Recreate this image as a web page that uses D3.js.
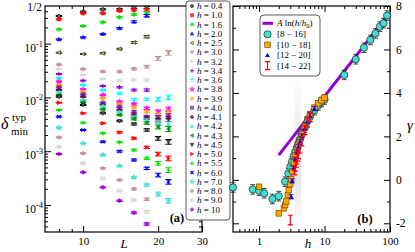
<!DOCTYPE html>
<html><head><meta charset="utf-8">
<script src="https://d3js.org/d3.v7.min.js"></script>
<style>
html,body{margin:0;padding:0;background:#fff;}
svg{display:block;}
text{font-family:"Liberation Serif","Times New Roman",serif;fill:#000;}
</style></head><body>
<svg id="chart" width="415" height="252"></svg>
<script>
// ================= DATA =================
// panel (a): system sizes L and typical minimal gap for each field h
const sizesL = [8, 10, 12, 14, 16, 18, 20, 22];
const hLabels = ["0.4","1.0","1.6","2.0","2.5","3.0","3.2","3.4","3.6","3.8","3.9","4.0","4.1","4.2","4.3","4.5","5.0","5.5","6.0","7.0","8.0","9.0","10"];
const dH0p4 = [0.326, 0.392, 0.434, 0.434, 0.469, 0.47, null, null];
const dH1p0 = [0.283, 0.366, 0.366, 0.409, 0.421, 0.421, null, null];
const dH1p6 = [0.184, 0.212, 0.249, 0.308, 0.348, 0.37, null, null];
const dH2p0 = [0.120, 0.131, 0.151, 0.193, 0.255, 0.33, null, null];
const dH2p5 = [0.0678, 0.0641, 0.0661, 0.0794, 0.105, 0.134, null, null];
const dH3p0 = [0.0406, 0.0333, 0.0301, 0.0301, 0.0338, 0.0372, 0.0533, 0.0678];
const dH3p2 = [0.0338, 0.0261, 0.0220, 0.0205, 0.0211, 0.0211, null, null];
const dH3p4 = [0.0272, 0.0205, 0.0163, 0.0154, 0.0137, 0.0137, null, null];
const dH3p6 = [0.0227, 0.0170, 0.0137, 0.0119, 0.00923, 0.00923, 0.00923, 0.01005];
const dH3p8 = [0.0196, 0.01415, 0.0111, 0.00832, 0.00754, 0.00628, 0.00542, 0.00601];
const dH3p9 = [0.0170, 0.01276, 0.00962, 0.00754, 0.00655, 0.00542, 0.00471, 0.0052];
const dH4p0 = [0.0154, 0.01143, 0.00797, 0.00672, 0.00542, 0.00438, 0.00427, 0.00451];
const dH4p1 = [0.01373, 0.0103, 0.00723, 0.00584, 0.00471, 0.00414, 0.0038, 0.00397];
const dH4p2 = [0.01245, 0.00895, 0.00692, 0.00536, 0.00433, 0.0038, 0.00349, 0.0032];
const dH4p3 = [0.0111, 0.00811, 0.00601, 0.00471, 0.00397, 0.00334, 0.00282, 0.00259];
const dH4p5 = [0.0103, 0.00723, 0.00507, 0.00364, 0.0032, 0.00248, 0.00174, 0.0015];
const dH5p0 = [0.00797, 0.00507, 0.0033, 0.00224, 0.00174, 0.00118, 0.000887, 0.000738];
const dH5p5 = [0.00584, 0.00339, 0.00215, 0.00147, 0.00105, 0.000738, 0.000596, 0.000448];
const dH6p0 = [0.00438, 0.00248, 0.0015, 0.000995, 0.000687, 0.000481, 0.000361, 0.000271];
const dH7p0 = [0.00273, 0.0014, 0.00085, 0.00053, 0.000327, 0.000236, 0.00016, 0.00012];
const dH8p0 = [0.00181, 0.000914, 0.000481, 0.000292, 0.000199, 0.000128, null, null];
const dH9p0 = [0.00121, 0.000596, 0.000313, 0.000184, 0.000124, 0.0000752, null, null];
const dH10  = [0.000887, 0.000405, 0.000213, 0.00012, 0.0000719, 0.0000444, null, null];
const errRelA = [0.02, 0.02, 0.025, 0.03, 0.04, 0.05, 0.08, 0.1];

const xTickA = [10, 20, 30];
const xMinorA = [8, 9];
const yTickA = [1e-4, 1e-3, 1e-2, 1e-1];
const yTickAExp = ["-4", "-3", "-2", "-1"];

// panel (b): exponent gamma vs h for four size windows
const windowLabels = ["[8 \u2212 16]", "[10 \u2212 18]", "[12 \u2212 20]", "[14 \u2212 22]"];
const hW1 = [0.4,0.8,1.0,1.2,1.6,2.0,2.5,2.8,3.0,3.2,3.4,3.6,3.8,4.0,4.2,4.5,5.0,5.5,6.0,7.0,8.0,9.0,10,20,30,40,50,60,70,80,90];
const gW1 = [-0.35,-0.44,-0.50,-0.62,-0.88,-0.75,-0.08,0.30,0.60,0.85,1.10,1.30,1.50,1.68,1.85,2.10,2.40,2.70,2.90,3.20,3.42,3.58,3.70,4.83,5.55,6.08,6.44,6.74,7.05,7.21,7.56];
const hW2 = [1.0,2.0,2.4,2.5,2.6,2.75,2.85,3.0,3.1,3.2,3.4,3.6,3.8,4.0,4.2,4.5,5.0,5.5,6.0,7.0,8.0,9.0,10];
const gW2 = [-0.32,-1.54,-1.31,-1.16,-1.00,-0.70,-0.47,-0.20,0.02,0.40,0.80,1.12,1.40,1.62,1.82,2.10,2.46,2.78,3.00,3.32,3.52,3.66,3.78];
const hW3 = [3.1,3.2,3.4,3.6,3.8,4.0,4.2,4.5,5.0,5.5,6.0,7.0];
const gW3 = [-0.78,-0.05,0.55,0.95,1.28,1.52,1.75,2.02,2.38,2.70,2.95,3.28];
const hW4 = [3.0,3.5,3.6,3.7,3.8,3.9,4.0,4.2,4.5,5.0,5.5,6.0];
const gW4 = [-1.85,0.45,0.62,0.80,0.95,1.08,1.20,1.45,1.78,2.30,2.65,2.90];
const errW = [0.22, 0.12, 0.1, 0.22];
const hFit = [2.0, 95];
const gFit = [1.14, 7.62];
const bandH = [3.5, 4.4];
const bandG = [-1.7, 4.7];

const xTickB = [1, 10, 100];
const xMinorB = [0.5,0.6,0.7,0.8,0.9,2,3,4,5,6,7,8,9,20,30,40,50,60,70,80,90];
const yTickB = [-2, 0, 2, 4, 6, 8];
const yMinorB = [-1, 1, 3, 5, 7];

// ================= STYLE =================
const colA = ["#000","#f00","#00e000","#00f","#ff0","#bc8f8f","#d8d8d8","#9400d3","#00ffff","#ff00ff","#ffa500","#7221bc","#670748","#40e0d0","#008b00","#000","#f00","#00e000","#00f","#40e0d0","#bc8f8f","#d8d8d8","#9400d3"];
const typA = ["circle","square","diamond","up","left","down","right","plus","x","star","circle","square","diamond","up","left","down","right","plus","x","star","circle","square","diamond"];
const seriesA = [dH0p4,dH1p0,dH1p6,dH2p0,dH2p5,dH3p0,dH3p2,dH3p4,dH3p6,dH3p8,dH3p9,dH4p0,dH4p1,dH4p2,dH4p3,dH4p5,dH5p0,dH5p5,dH6p0,dH7p0,dH8p0,dH9p0,dH10];

function sym(type, s){
  switch(type){
    case 'circle': return `M${s},0A${s},${s} 0 1,1 ${-s},0A${s},${s} 0 1,1 ${s},0Z`;
    case 'square': return `M${-s},${-s}H${s}V${s}H${-s}Z`;
    case 'diamond': { const t=s*1.3; return `M0,${-t}L${t},0L0,${t}L${-t},0Z`; }
    case 'up': return `M0,${-s*1.2}L${s*1.15},${s*0.9}L${-s*1.15},${s*0.9}Z`;
    case 'down': return `M0,${s*1.2}L${s*1.15},${-s*0.9}L${-s*1.15},${-s*0.9}Z`;
    case 'left': return `M${-s*1.2},0L${s*0.9},${-s*1.15}L${s*0.9},${s*1.15}Z`;
    case 'right': return `M${s*1.2},0L${-s*0.9},${-s*1.15}L${-s*0.9},${s*1.15}Z`;
    case 'plus': return `M${-s*1.3},0H${s*1.3}M0,${-s*1.3}V${s*1.3}`;
    case 'x': return `M${-s},${-s}L${s},${s}M${-s},${s}L${s},${-s}`;
    case 'star': return d3.symbol(d3.symbolStar, s*s*3.2)();
  }
}
function drawSym(g, type, color, x, y, s){
  const open = (type==='plus'||type==='x');
  const p = g.append('path').attr('transform',`translate(${x},${y})`).attr('d', sym(type,s));
  if(open){ p.attr('fill','none').attr('stroke',color).attr('stroke-width',1.1); }
  else {
    let st = color;
    if(color==="#ff0") st="#222";
    if(color==="#000") { p.attr('fill','#666'); } else p.attr('fill',color).attr('fill-opacity',0.75);
    p.attr('stroke',st).attr('stroke-width',0.6);
  }
}

const svg = d3.select('#chart');
const A = {l:45, r:202, t:6, b:232};
const B = {l:233, r:390, t:6, b:232};
const xA = d3.scaleLog().domain([7.03, 30]).range([A.l, A.r]);
const yA = d3.scaleLog().domain([3.15e-5, 0.5]).range([A.b, A.t]);
const xB = d3.scaleLog().domain([0.4, 100]).range([B.l, B.r]);
const yB = d3.scaleLinear().domain([-2.4, 8]).range([B.b, B.t]);

function styleAxis(g){ g.select('.domain').remove(); g.selectAll('line').attr('stroke','#000').attr('stroke-width',1); g.selectAll('text').attr('font-size',11).attr('font-family','"Liberation Serif",serif'); }

// ================= PANEL A =================
const gA = svg.append('g');
const minorYA = [];
for(let n=-5;n<=-1;n++) for(let k=2;k<=9;k++){ const v=k*Math.pow(10,n); if(v>3.15e-5 && v<0.5) minorYA.push(v); }

gA.append('g').attr('transform',`translate(0,${A.b})`).call(d3.axisBottom(xA).tickValues(xTickA).tickSize(-6).tickPadding(5).tickFormat(d3.format('d'))).call(styleAxis);
gA.append('g').attr('transform',`translate(0,${A.b})`).call(d3.axisBottom(xA).tickValues(xMinorA).tickSize(-3).tickFormat('')).call(styleAxis);
gA.append('g').attr('transform',`translate(0,${A.t})`).call(d3.axisTop(xA).tickValues(xTickA).tickSize(-6).tickFormat('')).call(styleAxis);
gA.append('g').attr('transform',`translate(0,${A.t})`).call(d3.axisTop(xA).tickValues(xMinorA).tickSize(-3).tickFormat('')).call(styleAxis);
gA.append('g').attr('transform',`translate(${A.l},0)`).call(d3.axisLeft(yA).tickValues(yTickA).tickSize(-6).tickFormat('')).call(styleAxis);
gA.append('g').attr('transform',`translate(${A.l},0)`).call(d3.axisLeft(yA).tickValues(minorYA).tickSize(-3).tickFormat('')).call(styleAxis);
gA.append('g').attr('transform',`translate(${A.r},0)`).call(d3.axisRight(yA).tickValues(yTickA).tickSize(-6).tickFormat('')).call(styleAxis);
gA.append('g').attr('transform',`translate(${A.r},0)`).call(d3.axisRight(yA).tickValues(minorYA).tickSize(-3).tickFormat('')).call(styleAxis);
gA.append('rect').attr('x',A.l).attr('y',A.t).attr('width',A.r-A.l).attr('height',A.b-A.t).attr('fill','none').attr('stroke','#000').attr('stroke-width',1.2);

// y tick labels
yTickA.forEach((v,i)=>{
  const t = gA.append('text').attr('x',43).attr('y',yA(v)+8).attr('text-anchor','end').attr('font-size',11.5);
  t.append('tspan').text('10');
  t.append('tspan').attr('dy',-5).attr('font-size',8.5).text(yTickAExp[i]);
});
gA.append('text').attr('x',42).attr('y',yA(0.5)+5).attr('text-anchor','end').attr('font-size',11.5).text('1/2');

// data panel A
seriesA.forEach((arr,i)=>{
  const g = gA.append('g');
  arr.forEach((v,j)=>{
    if(v==null) return;
    const x = xA(sizesL[j]), y = yA(v);
    const y1 = yA(v*(1+errRelA[j])), y2 = yA(v*(1-errRelA[j]));
    const c = colA[i]==="#ff0" ? "#333" : colA[i];
    g.append('path').attr('d',`M${x},${y1}V${y2}M${x-3.2},${y1}H${x+3.2}M${x-3.2},${y2}H${x+3.2}`)
      .attr('stroke',c).attr('stroke-width',1).attr('fill','none');
    drawSym(g, typA[i], colA[i], x, y, 1.7);
  });
});

// legend panel A
const lgA = gA.append('g');
lgA.append('rect').attr('x',186).attr('y',1).attr('width',44).attr('height',219).attr('rx',3)
  .attr('fill','#fff').attr('stroke','#444').attr('stroke-width',0.9);
hLabels.forEach((lab,i)=>{
  const y = 6 + i*9.25;
  drawSym(lgA, typA[i], colA[i], 192, y, 1.5);
  const t = lgA.append('text').attr('x',197).attr('y',y+3).attr('font-size',9);
  t.append('tspan').attr('font-style','italic').text('h');
  t.append('tspan').text(' = '+lab);
});
gA.append('text').attr('x',177).attr('y',222).attr('text-anchor','middle').attr('font-size',12.5).attr('font-weight','bold').text('(a)');

// axis labels A
gA.append('text').attr('x',124).attr('y',248).attr('text-anchor','middle').attr('font-size',13).attr('font-style','italic').text('L');
const yl = gA.append('g');
yl.append('text').attr('x',1).attr('y',129).attr('font-size',16).attr('font-style','italic').text('\u03b4');
yl.append('text').attr('x',12).attr('y',121).attr('font-size',11).text('typ');
yl.append('text').attr('x',11).attr('y',135).attr('font-size',11).text('min');

// ================= PANEL B =================
const gB = svg.append('g');
// shaded band
const defs = svg.append('defs');
const grad = defs.append('linearGradient').attr('id','bandGrad').attr('x1',0).attr('y1',0).attr('x2',0).attr('y2',1);
[[0,0],[0.35,0.18],[0.75,0.25],[1,0.05]].forEach(s=>grad.append('stop').attr('offset',s[0]).attr('stop-color','#999').attr('stop-opacity',s[1]));
gB.append('rect').attr('x',xB(bandH[0])).attr('y',yB(bandG[1])).attr('width',xB(bandH[1])-xB(bandH[0])).attr('height',yB(bandG[0])-yB(bandG[1])).attr('fill','url(#bandGrad)');

gB.append('g').attr('transform',`translate(0,${B.b})`).call(d3.axisBottom(xB).tickValues(xTickB).tickSize(-6).tickPadding(5).tickFormat(d3.format('d'))).call(styleAxis);
gB.append('g').attr('transform',`translate(0,${B.b})`).call(d3.axisBottom(xB).tickValues(xMinorB).tickSize(-3).tickFormat('')).call(styleAxis);
gB.append('g').attr('transform',`translate(0,${B.t})`).call(d3.axisTop(xB).tickValues(xTickB).tickSize(-6).tickFormat('')).call(styleAxis);
gB.append('g').attr('transform',`translate(0,${B.t})`).call(d3.axisTop(xB).tickValues(xMinorB).tickSize(-3).tickFormat('')).call(styleAxis);
gB.append('g').attr('transform',`translate(${B.l},0)`).call(d3.axisLeft(yB).tickValues(yTickB).tickSize(-6).tickFormat('')).call(styleAxis);
gB.append('g').attr('transform',`translate(${B.l},0)`).call(d3.axisLeft(yB).tickValues(yMinorB).tickSize(-3).tickFormat('')).call(styleAxis);
gB.append('g').attr('transform',`translate(${B.r},0)`).call(d3.axisRight(yB).tickValues(yTickB).tickSize(-6).tickPadding(6).tickFormat(d=>d<0?'-'+Math.abs(d):String(d))).call(styleAxis)
  .call(g=>g.selectAll('text').attr('font-size',11.5));
gB.append('g').attr('transform',`translate(${B.r},0)`).call(d3.axisRight(yB).tickValues(yMinorB).tickSize(-3).tickFormat('')).call(styleAxis);
gB.append('rect').attr('x',B.l).attr('y',B.t).attr('width',B.r-B.l).attr('height',B.b-B.t).attr('fill','none').attr('stroke','#000').attr('stroke-width',1.2);

// fit line
const lineB = d3.line().x(d=>xB(d[0])).y(d=>yB(d[1]));
gB.append('path').attr('d',lineB(hFit.map((h,i)=>[h,gFit[i]]))).attr('stroke','#9400d3').attr('stroke-width',3).attr('fill','none');

function errBar(g, x, y1, y2, w, c, sw){
  g.append('path').attr('d',`M${x},${y1}V${y2}M${x-w},${y1}H${x+w}M${x-w},${y2}H${x+w}`).attr('stroke',c).attr('stroke-width',sw).attr('fill','none');
}
// window [8-16]
hW1.forEach((h,i)=>{
  const x=xB(h), y=yB(gW1[i]);
  errBar(gB, x, yB(gW1[i]+errW[0]), yB(gW1[i]-errW[0]), 2.5, '#222', 0.8);
  gB.append('circle').attr('cx',x).attr('cy',y).attr('r',3.6).attr('fill','#40e0d0').attr('stroke','#222').attr('stroke-width',0.7);
});
// window [10-18]
hW2.forEach((h,i)=>{
  const x=xB(h), y=yB(gW2[i]);
  errBar(gB, x, yB(gW2[i]+errW[1]), yB(gW2[i]-errW[1]), 2.5, '#ffa500', 0.8);
  gB.append('rect').attr('x',x-2.8).attr('y',y-2.8).attr('width',5.6).attr('height',5.6).attr('fill','#ffa500').attr('stroke','#6b4000').attr('stroke-width',0.6);
});
// window [12-20]
hW3.forEach((h,i)=>{
  const x=xB(h), y=yB(gW3[i]);
  errBar(gB, x, yB(gW3[i]+errW[2]), yB(gW3[i]-errW[2]), 2.5, '#00f', 0.8);
  gB.append('path').attr('transform',`translate(${x},${y})`).attr('d',sym('up',2.1)).attr('fill','#00f');
});
// window [14-22]
hW4.forEach((h,i)=>{
  const x=xB(h);
  errBar(gB, x, yB(gW4[i]+errW[3]), yB(gW4[i]-errW[3]), 2.6, '#f00', 1.2);
});

// legend B
const lgB = gB.append('g');
lgB.append('rect').attr('x',260).attr('y',15).attr('width',60).attr('height',61).attr('rx',4).attr('fill','#fff').attr('stroke','#333').attr('stroke-width',0.8);
const ly = [23.3, 34.3, 44.8, 55.2, 65.7];
lgB.append('line').attr('x1',262.5).attr('x2',273).attr('y1',ly[0]).attr('y2',ly[0]).attr('stroke','#9400d3').attr('stroke-width',3);
lgB.append('circle').attr('cx',267.5).attr('cy',ly[1]).attr('r',3.6).attr('fill','#40e0d0').attr('stroke','#222').attr('stroke-width',0.7);
lgB.append('rect').attr('x',264.7).attr('y',ly[2]-2.8).attr('width',5.6).attr('height',5.6).attr('fill','#ffa500').attr('stroke','#6b4000').attr('stroke-width',0.6);
lgB.append('path').attr('transform',`translate(267.5,${ly[3]})`).attr('d',sym('up',2.1)).attr('fill','#00f');
errBar(lgB, 267.5, ly[4]-4, ly[4]+4, 2.6, '#f00', 1.2);
const ft = lgB.append('text').attr('x',277).attr('y',ly[0]+3).attr('font-size',9);
ft.append('tspan').attr('font-style','italic').text('A');
ft.append('tspan').text(' ln(');
ft.append('tspan').attr('font-style','italic').text('h');
ft.append('tspan').text('/');
ft.append('tspan').attr('font-style','italic').text('h');
ft.append('tspan').attr('font-size',6.5).attr('dy',2).text('0');
ft.append('tspan').attr('dy',-2).text(')');
windowLabels.forEach((lab,i)=>{
  lgB.append('text').attr('x',277).attr('y',ly[i+1]+3).attr('font-size',9).text(lab);
});
gB.append('text').attr('x',365).attr('y',223).attr('text-anchor','middle').attr('font-size',12.5).attr('font-weight','bold').text('(b)');

// axis labels B
gB.append('text').attr('x',308).attr('y',248).attr('text-anchor','middle').attr('font-size',13).attr('font-style','italic').text('h');
gB.append('text').attr('x',410).attr('y',130).attr('text-anchor','middle').attr('font-size',15).attr('font-style','italic').text('\u03b3');
</script>
</body></html>
